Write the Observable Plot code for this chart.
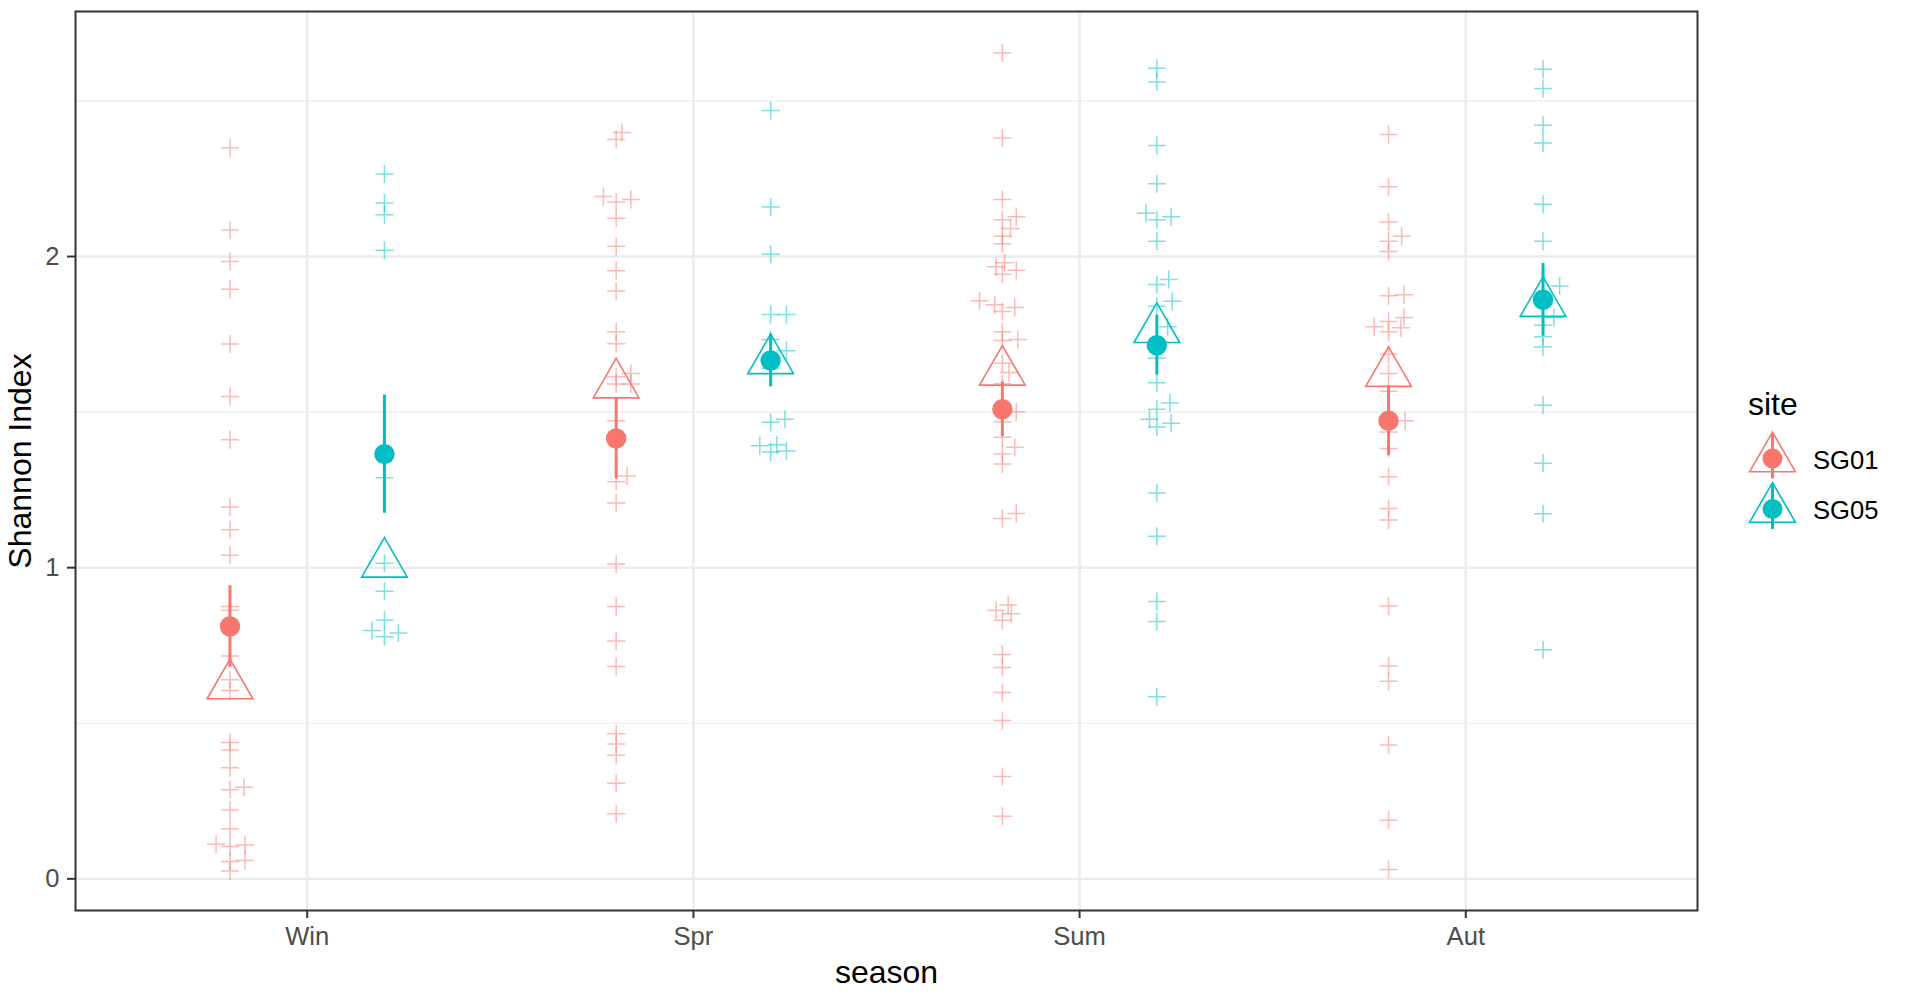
<!DOCTYPE html>
<html>
<head>
<meta charset="utf-8">
<script src="https://cdn.jsdelivr.net/npm/d3@7"></script>
<script src="https://cdn.jsdelivr.net/npm/@observablehq/plot@0.6"></script>
<style>
  html, body { margin: 0; padding: 0; background: #fff; }
  #wrap { position: relative; width: 1908px; height: 998px; font-family: "Liberation Sans", Arial, Helvetica, sans-serif; }
  #legend { position: absolute; left: 1740px; top: 380px; }
</style>
</head>
<body>
<div id="wrap"><div id="chart"></div><svg id="legend" width="168" height="170"></svg></div>
<script>
// ---- categories ----
const seasons = ["Win", "Spr", "Sum", "Aut"];
const sites = ["SG01", "SG05"];
const yTicks = [0, 1, 2];
const yMinorTicks = [0.5, 1.5, 2.5];

// ---- summary values (mean ± se, median) per season ----
const meanSG01 = [0.811, 1.415, 1.509, 1.472];
const seSG01 = [0.131, 0.130, 0.088, 0.112];
const medianSG01 = [0.621, 1.588, 1.629, 1.625];
const meanSG05 = [1.365, 1.666, 1.715, 1.861];
const seSG05 = [0.190, 0.085, 0.096, 0.117];
const medianSG05 = [1.012, 1.666, 1.766, 1.850];

// ---- raw Shannon index values: [value, jitter (category units)] ----
const rawWinSG01 = [[2.35,0],[2.085,0],[1.984,0],[1.895,0],[1.719,0],[1.55,0],[1.411,0],[1.195,0],[1.122,0],[1.04,0],[0.875,0],[0.863,0],[0.716,0],[0.64,0],[0.605,0],[0.438,0],[0.414,0],[0.357,0],[0.294,0.036],[0.286,0],[0.221,0],[0.161,0],[0.111,-0.036],[0.104,0],[0.109,0.039],[0.059,0.039],[0.056,0],[0.025,0]];
const rawWinSG05 = [[2.265,0],[2.172,0],[2.134,0],[2.02,0],[1.289,0],[1.014,0],[0.924,0],[0.831,0],[0.798,-0.032],[0.79,0.036],[0.778,0]];
const rawSprSG01 = [[2.399,0.015],[2.376,0],[2.193,-0.033],[2.175,0],[2.183,0.038],[2.123,0],[2.033,0],[1.954,0],[1.889,0],[1.758,0],[1.72,0],[1.624,0.038],[1.614,0],[1.59,0.038],[1.59,0],[1.472,0],[1.295,0.028],[1.276,0],[1.208,0],[1.012,0],[0.875,0],[0.764,0],[0.682,0],[0.466,0],[0.433,0],[0.397,0],[0.307,0],[0.209,0]];
const rawSprSG05 = [[2.469,0],[2.159,0],[2.007,0],[1.814,0],[1.814,0.041],[1.733,0],[1.697,0.041],[1.64,0],[1.467,0],[1.477,0.037],[1.392,-0.028],[1.395,0.016],[1.372,0],[1.375,0.041]];
const rawSumSG01 = [[2.654,0],[2.381,0],[2.183,0],[2.128,0.036],[2.118,0],[2.09,0.021],[2.065,0],[2.041,0],[1.98,0.006],[1.967,-0.016],[1.956,0.036],[1.943,0],[1.858,-0.059],[1.845,-0.02],[1.836,0.032],[1.823,0],[1.758,0],[1.733,0.04],[1.73,0],[1.657,0],[1.627,0.017],[1.591,0],[1.501,0.036],[1.468,0],[1.419,0],[1.387,0.032],[1.365,0],[1.333,0],[1.174,0.036],[1.158,0],[0.88,0.015],[0.863,-0.016],[0.852,0.023],[0.831,0],[0.721,0],[0.679,0],[0.599,0],[0.509,0],[0.329,0],[0.201,0]];
const rawSumSG05 = [[2.605,0],[2.561,0],[2.357,0],[2.234,0],[2.139,-0.028],[2.118,0],[2.128,0.037],[2.049,0],[1.926,0.031],[1.91,0],[1.856,0.04],[1.84,0],[1.774,0.028],[1.673,0],[1.594,0],[1.529,0.034],[1.509,0],[1.477,-0.019],[1.464,0.037],[1.452,0],[1.24,0],[1.101,0],[0.891,0],[0.827,0],[0.585,0]];
const rawAutSG01 = [[2.392,0],[2.224,0],[2.111,0],[2.065,0.034],[2.049,0],[2.016,0],[1.877,0.04],[1.874,0],[1.804,0.04],[1.791,0],[1.774,-0.037],[1.771,0.032],[1.758,0],[1.686,0],[1.624,0],[1.567,0],[1.472,0.043],[1.436,0],[1.383,0],[1.292,0],[1.19,0],[1.153,0],[0.877,0],[0.684,0],[0.635,0],[0.43,0],[0.188,0],[0.03,0]];
const rawAutSG05 = [[2.602,0],[2.54,0],[2.422,0],[2.365,0],[2.168,0],[2.049,0],[1.905,0.043],[1.804,0.028],[1.779,0],[1.742,0],[1.709,0],[1.522,0],[1.336,0],[1.173,0],[0.736,0]];

// ---- build tables ----
const rawBySeason = {
  SG01: [rawWinSG01, rawSprSG01, rawSumSG01, rawAutSG01],
  SG05: [rawWinSG05, rawSprSG05, rawSumSG05, rawAutSG05]
};
const raw = [];
sites.forEach(site => seasons.forEach((season, i) => {
  rawBySeason[site][i].forEach(([v, j]) => raw.push({season, site, v, j}));
}));
const summary = [];
seasons.forEach((season, i) => {
  summary.push({season, site: "SG01", mean: meanSG01[i], se: seSG01[i], median: medianSG01[i]});
  summary.push({season, site: "SG05", mean: meanSG05[i], se: seSG05[i], median: medianSG05[i]});
});

const dodge = 0.2;
const xOf = d => seasons.indexOf(d.season) + 1 + (d.site === sites[0] ? -dodge : dodge) + (d.j || 0);

const plusSymbol = {draw(ctx, size) { const r = Math.sqrt(size / Math.PI); ctx.moveTo(-r, 0); ctx.lineTo(r, 0); ctx.moveTo(0, -r); ctx.lineTo(0, r); }};
const triSymbol = {draw(ctx, size) { const r = Math.sqrt(size / Math.PI); const w = Math.sqrt(3) * r; ctx.moveTo(0, -2 * r); ctx.lineTo(w, r); ctx.lineTo(-w, r); ctx.closePath(); }};

const colors = ["#F8766D", "#00BFC4"];
const font = "Liberation Sans, Arial, Helvetica, sans-serif";

const chart = Plot.plot({
  width: 1908,
  height: 998,
  marginLeft: 75,
  marginRight: 211,
  marginTop: 11,
  marginBottom: 88,
  style: {fontFamily: font, background: "white", overflow: "visible"},
  x: {domain: [0.4, 4.6]},
  y: {domain: [-0.1018, 2.7875]},
  color: {domain: sites, range: colors},
  marks: [
    Plot.gridY(yMinorTicks, {stroke: "#EBEBEB", strokeOpacity: 1, strokeWidth: 1.2}),
    Plot.gridY(yTicks, {stroke: "#EBEBEB", strokeOpacity: 1, strokeWidth: 2.4}),
    Plot.gridX([1, 2, 3, 4], {stroke: "#EBEBEB", strokeOpacity: 1, strokeWidth: 2.4}),
    Plot.dot(raw, {x: xOf, y: "v", r: 9, symbol: plusSymbol, stroke: "site", fill: "none", strokeOpacity: 0.5, strokeWidth: 1.5}),
    Plot.dot(summary, {x: xOf, y: "median", r: 13.2, symbol: triSymbol, stroke: "site", fill: "none", strokeWidth: 1.6}),
    Plot.ruleX(summary, {x: xOf, y1: d => d.mean - d.se, y2: d => d.mean + d.se, stroke: "site", strokeWidth: 3}),
    Plot.dot(summary, {x: xOf, y: "mean", r: 10.2, fill: "site", stroke: null}),
    Plot.axisX([1, 2, 3, 4], {tickSize: 8, tickFormat: () => "", color: "#333333", strokeWidth: 2, label: null}),
    Plot.axisX([1, 2, 3, 4], {tickSize: 0, tickPadding: 16, tickFormat: i => seasons[i - 1], color: "#4D4D4D", fontSize: 25.6, label: null}),
    Plot.axisY(yTicks, {tickSize: 8, tickFormat: () => "", color: "#333333", strokeWidth: 2, label: null}),
    Plot.axisY(yTicks, {tickSize: 0, tickPadding: 16, tickFormat: d3.format("d"), color: "#4D4D4D", fontSize: 25.6, label: null}),
    Plot.text(["Shannon Index"], {text: d => d, frameAnchor: "left", textAnchor: "middle", dx: -55, rotate: -90, fontSize: 32, fill: "black"}),
    Plot.text(["season"], {text: d => d, frameAnchor: "bottom", dy: 72, lineAnchor: "bottom", fontSize: 32, fill: "black"}),
    Plot.frame({stroke: "#333333", strokeWidth: 2})
  ]
});
document.getElementById("chart").appendChild(chart);

// ---- legend (site) ----
const leg = d3.select("#legend");
leg.append("text").attr("x", 8).attr("y", 35).attr("font-family", font).attr("font-size", 32).attr("fill", "black").text("site");
sites.forEach((s, i) => {
  const cx = 32.5, cy = 78.5 + i * 50.5;
  const g = leg.append("g");
  const r = 13.2, w = Math.sqrt(3) * r;
  g.append("path").attr("d", `M${cx},${cy - 2 * r}L${cx + w},${cy + r}L${cx - w},${cy + r}Z`)
    .attr("fill", "none").attr("stroke", colors[i]).attr("stroke-width", 1.6);
  g.append("line").attr("x1", cx).attr("x2", cx).attr("y1", cy - 25).attr("y2", cy + 20)
    .attr("stroke", colors[i]).attr("stroke-width", 3);
  g.append("circle").attr("cx", cx).attr("cy", cy).attr("r", 10).attr("fill", colors[i]);
  g.append("text").attr("x", 73).attr("y", cy + 10).attr("font-family", font).attr("font-size", 25.6).attr("fill", "black").text(s);
});
</script>
</body>
</html>
